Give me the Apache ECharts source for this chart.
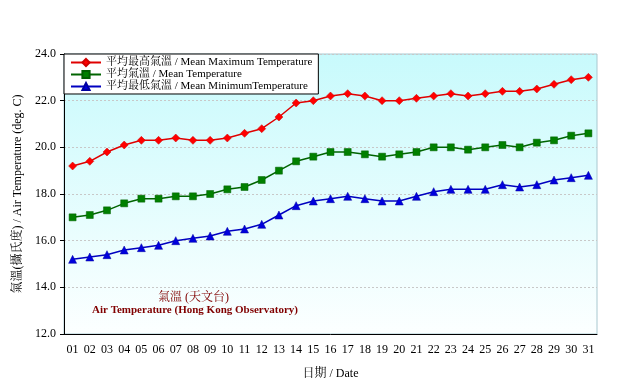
<!DOCTYPE html>
<html><head><meta charset="utf-8">
<script src="https://cdn.jsdelivr.net/npm/echarts@6/dist/echarts.min.js"></script>
<style>html,body{margin:0;padding:0;background:#fff}#c{width:635px;height:390px}</style>
</head><body><div id="c"></div>
<script>
const days = ['01','02','03','04','05','06','07','08','09','10','11','12','13','14','15','16','17','18','19','20','21','22','23','24','25','26','27','28','29','30','31'];
const meanMax = [19.2,19.4,19.8,20.1,20.3,20.3,20.4,20.3,20.3,20.4,20.6,20.8,21.3,21.9,22.0,22.2,22.3,22.2,22.0,22.0,22.1,22.2,22.3,22.2,22.3,22.4,22.4,22.5,22.7,22.9,23.0];
const meanTemp = [17.0,17.1,17.3,17.6,17.8,17.8,17.9,17.9,18.0,18.2,18.3,18.6,19.0,19.4,19.6,19.8,19.8,19.7,19.6,19.7,19.8,20.0,20.0,19.9,20.0,20.1,20.0,20.2,20.3,20.5,20.6];
const meanMin = [15.2,15.3,15.4,15.6,15.7,15.8,16.0,16.1,16.2,16.4,16.5,16.7,17.1,17.5,17.7,17.8,17.9,17.8,17.7,17.7,17.9,18.1,18.2,18.2,18.2,18.4,18.3,18.4,18.6,18.7,18.8];
const seriesNames = ['平均最高氣溫 / Mean Maximum Temperature','平均氣溫 / Mean Temperature','平均最低氣溫 / Mean MinimumTemperature'];
const yTicks = [12,14,16,18,20,22,24];

const FONT = '"Liberation Serif","Times New Roman","Noto Serif CJK TC","Noto Sans CJK TC",serif';
const chart = echarts.init(document.getElementById('c'), null, {renderer:'canvas'});
chart.setOption({
  animation:false,
  textStyle:{fontFamily:FONT},
  grid:{left:64,right:38,top:54,bottom:56,show:true,borderColor:'#a8c8d0',borderWidth:1,
    backgroundColor:new echarts.graphic.LinearGradient(0,0,0,1,[{offset:0,color:'#c8fafc'},{offset:1,color:'#fcffff'}])},
  legend:{orient:'vertical',left:64,top:54,padding:[3,6,2,6],itemGap:1,itemWidth:30,itemHeight:9,
    backgroundColor:'#fff',borderColor:'#000',borderWidth:1,
    textStyle:{fontFamily:FONT,fontSize:11,color:'#000'},data:seriesNames},
  xAxis:{type:'category',data:days,boundaryGap:true,
    name:'日期 / Date',nameLocation:'middle',nameGap:34,nameTextStyle:{fontFamily:FONT,fontSize:12,color:'#000'},
    axisLine:{lineStyle:{color:'#000',width:1}},
    axisTick:{inside:true,length:4,lineStyle:{color:'#000'}},
    axisLabel:{fontFamily:FONT,fontSize:12,color:'#000',margin:10}},
  yAxis:{type:'value',min:yTicks[0],max:yTicks[yTicks.length-1],interval:2,
    name:'氣溫(攝氏度) / Air Temperature (deg. C)',nameLocation:'middle',nameGap:40,
    nameTextStyle:{fontFamily:FONT,fontSize:12,color:'#000'},
    axisLine:{show:true,lineStyle:{color:'#000'}},
    axisTick:{show:true,length:4,lineStyle:{color:'#000'}},
    axisLabel:{fontFamily:FONT,fontSize:12,color:'#000',margin:8,formatter:v=>v.toFixed(1)},
    splitLine:{show:true,lineStyle:{color:'#c8c8c8',type:[2,2]}}},
  graphic:[
    {type:'text',left:158,top:292,style:{text:'氣溫 (天文台)',fill:'#800000',font:'12px '+FONT}},
    {type:'text',left:92,top:305,style:{text:'Air Temperature (Hong Kong Observatory)',fill:'#800000',font:'bold 11px '+FONT}}
  ],
  series:[
    {name:seriesNames[0],type:'line',data:meanMax,symbol:'diamond',symbolSize:8,
      itemStyle:{color:'#ff0000',borderColor:'#d00000',borderWidth:0.5},lineStyle:{color:'#e00000',width:1.5}},
    {name:seriesNames[1],type:'line',data:meanTemp,symbol:'rect',symbolSize:7,
      itemStyle:{color:'#008000',borderColor:'#006000',borderWidth:0.5},lineStyle:{color:'#006400',width:1.5}},
    {name:seriesNames[2],type:'line',data:meanMin,symbol:'triangle',symbolSize:8,
      itemStyle:{color:'#0000dd',borderColor:'#0000a0',borderWidth:0.5},lineStyle:{color:'#0000c0',width:1.5}}
  ]
});
</script></body></html>
